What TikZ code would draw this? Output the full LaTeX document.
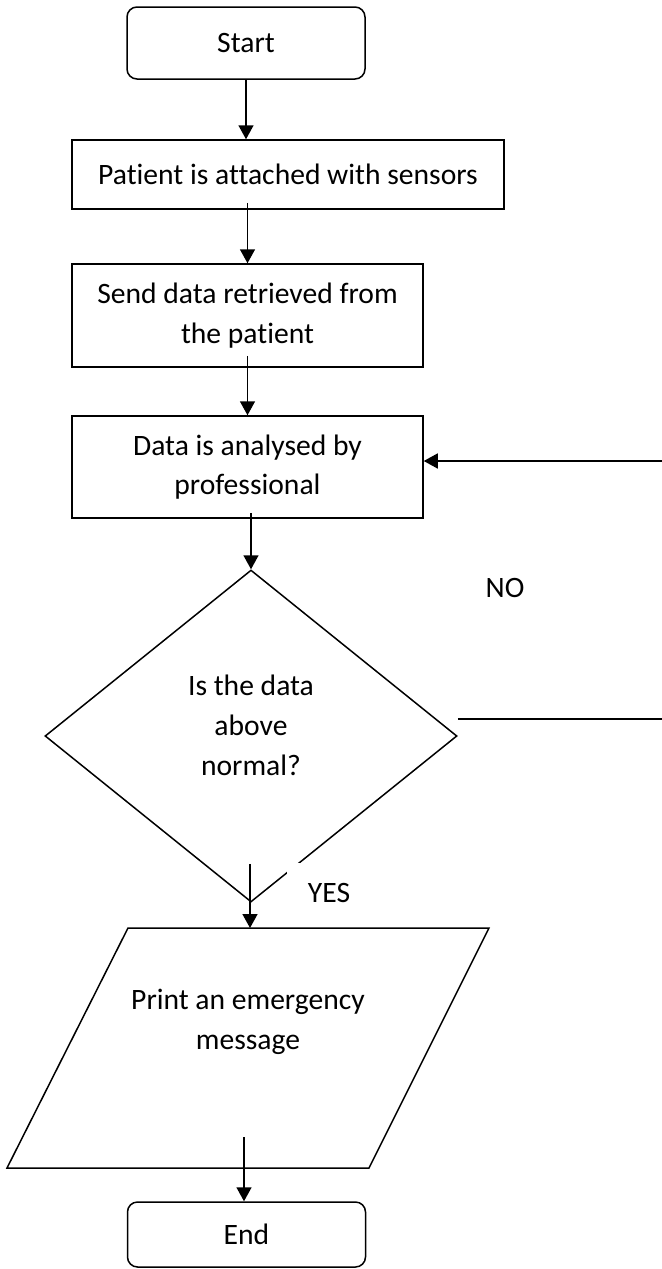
\documentclass[tikz,border=0pt]{standalone}
\usepackage{fontspec}
\setmainfont{Carlito}[Ligatures=NoCommon]
\usetikzlibrary{shapes.geometric,arrows.meta}

\begin{document}
\begin{tikzpicture}[x=0.5pt,y=-0.5pt,line width=0.75pt,
		font=\fontsize{14.8}{19.8}\selectfont,
		>={Triangle[width=7.5pt,length=7pt]},
		terminal/.style={draw,rounded corners=5pt,minimum width=119pt,minimum height=36pt},
		process/.style={draw,align=center,inner sep=0pt}]
		\useasboundingbox (0,0) rectangle (662,1269);
		
		% Nodes
		\node[terminal] (start) at (246,43) {Start};
		\node[process,minimum width=216pt,minimum height=34.5pt] (attach) at (288,174.5) {Patient is attached with sensors};
		\node[process,minimum width=175.5pt,minimum height=51.5pt] (send) at (247.5,315.5) {Send data retrieved from\\the patient};
		\node[process,minimum width=175.5pt,minimum height=51pt] (analyse) at (247.5,467) {Data is analysed by\\professional};
		\node[draw,diamond,inner sep=0pt,minimum width=206pt,minimum height=166pt,align=center] (check) at (251,736) {Is the data\\above\\normal?\\[-9pt]\mbox{}};
		\node[terminal,minimum height=32.5pt] (end) at (246.5,1234.5) {End};
		\node (no) at (505,588) {NO};
		\coordinate (noout) at (662,719);
		\coordinate (noin) at (662,461);
		
		% Output box
		\coordinate (p1) at (7,1168);
		\coordinate (p2) at (128,928);
		\coordinate (p3) at (489,928);
		\coordinate (p4) at (369,1168);
		\draw (p1) -- (p2) -- (p3) -- (p4) -- cycle;
		\node[align=center] (alarm) at (248,1022) {Print an emergency\\message};
		\coordinate (alarmtop) at (250,928);
		\coordinate (alarmout) at (244,1137);
		
		% Edges
		\draw[->] (start.south) -- (start.south |- attach.north);
		\draw[->] ([yshift=3.5pt]attach.south -| send.north) -- (send.north);
		\draw[->] ([yshift=6pt]send.south) -- (analyse.north);
		\draw[->] ([yshift=3pt]analyse.south -| check.north) -- (check.north);
		\draw[->] ([yshift=19.5pt]check.south -| alarmtop) -- (alarmtop);
		\draw[->] (alarmout) -- (alarmout |- end.north);
		\draw (check.east |- noout) -- (noout);
		\draw[->] (noin) -- (noin -| analyse.east);
		
		% Blank under YES
		\node[fill=white,minimum width=42pt,minimum height=30pt] (yes) at (329,893) {YES};
		
	\end{tikzpicture}
\end{document}
